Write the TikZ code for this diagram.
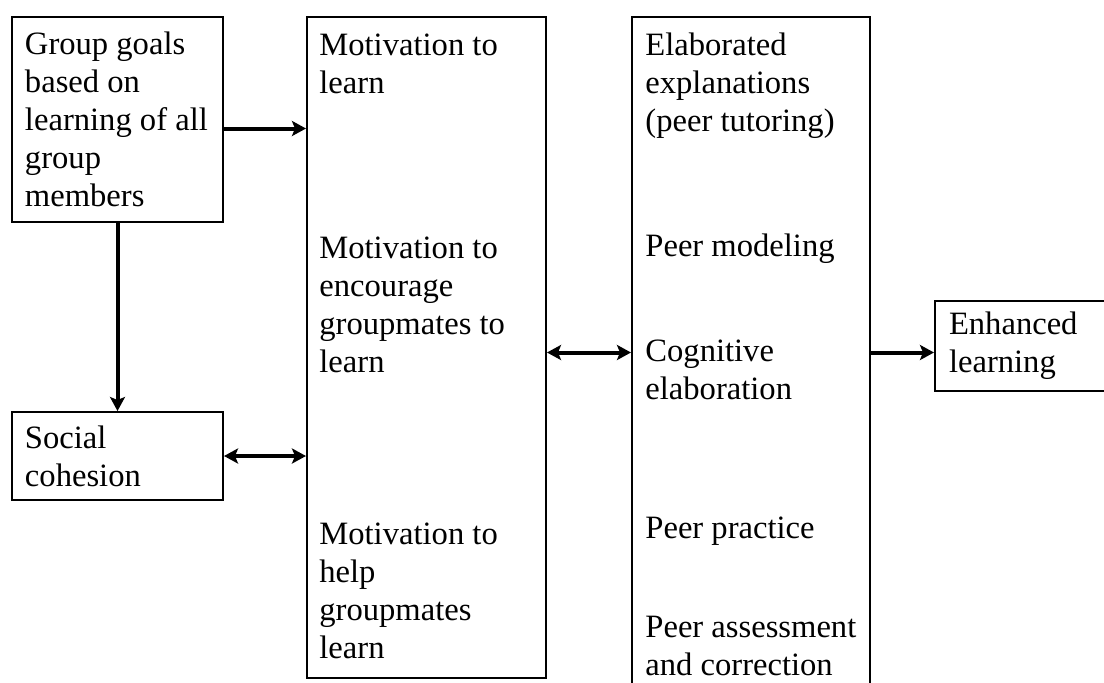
\documentclass[tikz,border=0pt]{standalone}
\usepackage{fontspec}
\setmainfont{Liberation Serif}
\usetikzlibrary{arrows.meta,calc}
\tikzset{
  box/.style={rectangle,draw,line width=1pt,anchor=north west,inner sep=0pt},
  tbox/.style={box,align=flush left,inner xsep=6.5pt},
  lbl/.style={anchor=base west,align=flush left,inner sep=0pt},
  arr/.style={-{Stealth[length=7pt,width=7.5pt,inset=1.5pt]},line width=2pt},
  darr/.style={{Stealth[length=7pt,width=7.5pt,inset=1.5pt]}-{Stealth[length=7pt,width=7.5pt,inset=1.5pt]},line width=2pt}
}
\begin{document}
\begin{tikzpicture}[x=0.5pt,y=-0.5pt,
  every node/.style={font=\fontsize{16.3}{19}\selectfont}]
  \useasboundingbox (0,0) rectangle (1104,682);
  \clip (0,0) rectangle (1104,682);

  \node[tbox,minimum width=105.5pt,minimum height=102.5pt,text width=92.5pt] (goals) at (11,16) {Group goals\\based on\\learning of all\\group\\members};
  \node[tbox,minimum width=105.5pt,minimum height=44pt,text width=92.5pt] (social) at (11,411) {Social\\cohesion};
  \node[box,minimum width=119.5pt,minimum height=330.5pt] (mot) at (306,16) {};
  \node[box,minimum width=119pt,minimum height=350pt] (tech) at (631,16) {};
  \node[tbox,inner xsep=7pt,minimum width=100pt,minimum height=45pt,text width=86pt] (enh) at (934,300) {Enhanced\\learning};

  \node[lbl] (m1) at (319,93) {Motivation to\\learn};
  \node[lbl] (m2) at (319,372) {Motivation to\\encourage\\groupmates to\\learn};
  \node[lbl] (m3) at (319,658) {Motivation to\\help\\groupmates\\learn};

  \node[lbl] (t1) at (645,131) {Elaborated\\explanations\\(peer tutoring)};
  \node[lbl] (t2) at (645,256) {Peer modeling};
  \node[lbl] (t3) at (645,399) {Cognitive\\elaboration};
  \node[lbl] (t4) at (645,538) {Peer practice};
  \node[lbl] (t5) at (645,675) {Peer assessment\\and correction};

  \coordinate (gout) at ([yshift=-4.5pt]goals.east);
  \coordinate (mout) at ([yshift=-2.5pt]mot.east);
  \draw[arr] (gout) -- (gout -| mot.west);
  \draw[arr] (goals.south) -- (social.north);
  \draw[darr] (social.east) -- (social.east -| mot.west);
  \draw[darr] (mout) -- (mout -| tech.west);
  \draw[arr] (mout -| tech.east) -- (mout -| enh.west);
\end{tikzpicture}
\end{document}
